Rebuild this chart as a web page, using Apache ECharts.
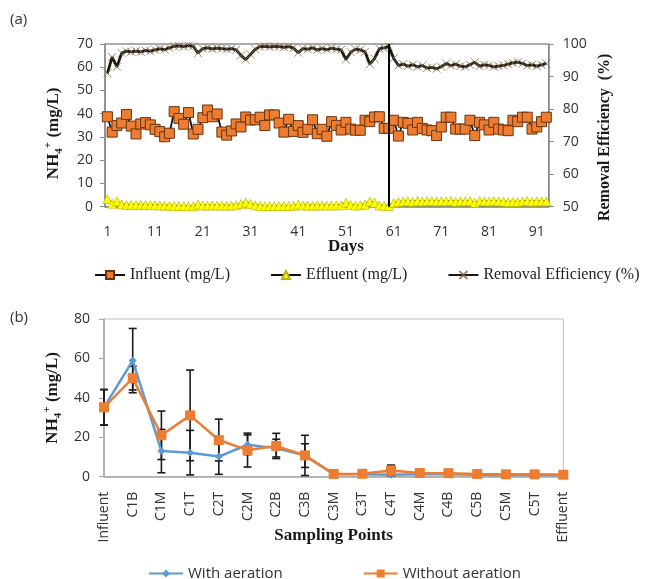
<!DOCTYPE html>
<html>
<head>
<meta charset="utf-8">
<title>NH4+ removal</title>
<script src="https://cdn.jsdelivr.net/npm/echarts@6/dist/echarts.min.js"></script>
<style>
  html, body { margin: 0; padding: 0; background: #fff; }
  #chart { width: 646px; height: 579px; }
</style>
</head>
<body>
<div id="chart"></div>
<script>
// ---- Panel (a): daily monitoring ----
const days = Array.from({ length: 93 }, (_, i) => String(i + 1));

const influent = [
  38.7, 32.1, 34.9, 36.0, 39.7, 34.7, 31.3, 35.6, 36.2, 35.2,
  33.3, 32.3, 30.1, 31.6, 40.9, 38.0, 35.5, 40.5, 31.3, 33.3,
  38.3, 41.6, 38.7, 39.9, 32.1, 30.8, 32.6, 35.6, 34.3, 38.6,
  37.3, 37.4, 38.5, 34.9, 39.5, 39.5, 36.0, 32.1, 37.6, 32.4,
  34.9, 32.0, 33.3, 37.4, 31.4, 33.3, 30.3, 36.6, 35.0, 33.0,
  36.3, 33.4, 32.9, 32.9, 37.2, 36.6, 38.6, 38.7, 33.7, 33.7,
  37.2, 30.4, 36.3, 35.9, 33.0, 36.3, 33.7, 33.0, 32.7, 30.6,
  34.3, 38.5, 38.5, 33.4, 33.4, 33.4, 37.2, 30.6, 36.3, 35.2,
  33.0, 36.3, 33.4, 33.0, 32.7, 37.2, 36.6, 38.5, 38.5, 33.4,
  34.3, 36.6, 38.5
];

const effluent = [
  3.3, 1.3, 2.4, 1.0, 0.7, 0.8, 0.7, 0.8, 0.7, 0.7,
  0.6, 0.5, 0.5, 0.4, 0.3, 0.3, 0.3, 0.2, 0.2, 0.9,
  0.5, 0.5, 0.6, 0.5, 0.5, 0.5, 0.5, 0.6, 1.2, 1.8,
  1.2, 0.6, 0.3, 0.2, 0.3, 0.3, 0.3, 0.3, 0.3, 0.4,
  0.9, 0.5, 0.5, 0.4, 0.6, 0.5, 0.5, 0.5, 0.6, 0.6,
  1.7, 0.8, 0.5, 0.6, 0.9, 2.2, 1.7, 0.5, 0.4, 0.3,
  1.6, 2.0, 2.2, 2.4, 2.1, 2.5, 2.2, 2.4, 2.4, 2.3,
  2.4, 2.3, 2.5, 2.1, 2.3, 2.3, 2.4, 1.7, 2.5, 2.3,
  2.2, 2.5, 2.3, 2.2, 2.0, 2.1, 2.0, 2.3, 2.5, 2.1,
  2.3, 2.3, 2.3
];

const removalEfficiency = [
  91.0, 96.0, 93.0, 97.2, 97.8, 97.6, 97.8, 97.6, 98.0, 97.8,
  98.2, 98.5, 98.3, 98.8, 99.3, 99.4, 99.2, 99.5, 99.3, 97.2,
  98.6, 98.8, 98.5, 98.7, 98.6, 98.4, 98.6, 98.2, 96.5, 95.2,
  96.8, 98.4, 99.2, 99.3, 99.1, 99.3, 99.2, 99.0, 99.2, 98.8,
  97.3, 98.6, 98.4, 98.8, 98.2, 98.6, 98.3, 98.7, 98.4, 98.2,
  95.2, 97.5, 98.4, 98.2, 97.6, 93.8, 95.5, 98.6, 98.8, 99.2,
  95.6, 93.4, 93.8, 93.2, 93.6, 93.0, 93.4, 92.6, 92.8, 92.4,
  93.0, 94.0, 93.4, 93.8, 93.2, 93.0, 93.6, 94.4, 93.2, 93.6,
  93.4, 93.0, 93.2, 93.4, 93.8, 94.2, 94.4, 94.0, 93.4, 93.6,
  93.2, 93.6, 94.0
];

const phaseChangeDay = '60';

// ---- Panel (b): sampling points along the system ----
const samplingPoints = [
  'Influent', 'C1B', 'C1M', 'C1T', 'C2T', 'C2M', 'C2B', 'C3B', 'C3M',
  'C3T', 'C4T', 'C4M', 'C4B', 'C5B', 'C5M', 'C5T', 'Effluent'
];
const withAeration      = [35.2, 58.9, 13.0, 12.2, 10.2, 16.2, 14.5, 10.7, 1.3, 1.2, 1.0, 1.3, 1.3, 1.0, 0.9, 0.9, 0.9];
const withAerationErr   = [9.0, 16.3, 11.0, 11.3, 9.0, 5.0, 4.5, 6.0, 0, 0, 0, 0, 0, 0, 0, 0, 0];
const withoutAeration   = [35.2, 50.0, 21.0, 31.1, 18.6, 13.5, 15.6, 10.8, 1.4, 1.5, 3.2, 1.9, 1.8, 1.4, 1.2, 1.2, 1.0];
const withoutAerationErr = [9.0, 6.0, 12.3, 23.0, 10.6, 8.6, 6.4, 10.2, 0, 0, 2.7, 0, 0, 0, 0, 0, 0];

const SANS = 'Open Sans';
const SERIF = 'Liberation Serif';

const nh4Rich = {
  b:   { fontFamily: SERIF, fontWeight: 'bold', fontSize: 17, color: '#1a1a1a', lineHeight: 22 },
  sub: { fontFamily: SERIF, fontWeight: 'bold', fontSize: 11, color: '#1a1a1a', lineHeight: 22, verticalAlign: 'bottom', padding: [8, 0, 0, 0] },
  sup: { fontFamily: SERIF, fontWeight: 'bold', fontSize: 11, color: '#1a1a1a', lineHeight: 22, verticalAlign: 'top', padding: [0, 0, 8, 0] }
};
const nh4Name = '{b|NH}{sub|4}{sup|+}{b| (mg/L)}';

function errorBarItem(params, api) {
  const i = api.value(0);
  const v = api.value(1);
  const e = api.value(2);
  if (!e) return null;
  const top = api.coord([i, v + e]);
  const bot = api.coord([i, v - e]);
  const hw = 4;
  const style = { stroke: '#1a1a1a', lineWidth: 1.6 };
  return {
    type: 'group',
    children: [
      { type: 'line', shape: { x1: top[0], y1: top[1], x2: bot[0], y2: bot[1] }, style },
      { type: 'line', shape: { x1: top[0] - hw, y1: top[1], x2: top[0] + hw, y2: top[1] }, style },
      { type: 'line', shape: { x1: bot[0] - hw, y1: bot[1], x2: bot[0] + hw, y2: bot[1] }, style }
    ]
  };
}

const chart = echarts.init(document.getElementById('chart'), null, { renderer: 'canvas' });

const greyAxis = { lineStyle: { color: '#8c8c8c', width: 1.5 } };
const tickLabel = { fontFamily: SANS, fontSize: 14, color: '#333' };

chart.setOption({
  animation: false,
  backgroundColor: '#fff',
  graphic: [
    { type: 'text', left: 10, top: 12, style: { text: '(a)', font: '15px "Open Sans"', fill: '#333' } },
    { type: 'text', left: 10, top: 310, style: { text: '(b)', font: '15px "Open Sans"', fill: '#333' } }
  ],
  legend: [
    {
      left: 89, top: 262,
      itemWidth: 30, itemHeight: 10, itemGap: 40,
      textStyle: { fontFamily: SERIF, fontSize: 16, color: '#222' },
      data: ['Influent (mg/L)', 'Effluent (mg/L)', 'Removal Efficiency (%)']
    },
    {
      left: 143, top: 561,
      itemWidth: 34, itemHeight: 10, itemGap: 80,
      textStyle: { fontFamily: SANS, fontSize: 15, color: '#333' },
      data: ['With aeration', 'Without aeration']
    }
  ],
  grid: [
    { left: 105, top: 44, width: 443.7, height: 162.7, show: true, borderColor: '#595959', borderWidth: 1 },
    { left: 104, top: 319, width: 459.3, height: 157.7, show: true, borderColor: '#bfbfbf', borderWidth: 1 }
  ],
  xAxis: [
    {
      type: 'category', gridIndex: 0, data: days, boundaryGap: true,
      axisLine: greyAxis, axisTick: { show: false },
      axisLabel: Object.assign({ interval: 9, margin: 18 }, tickLabel),
      name: 'Days', nameLocation: 'middle', nameGap: 31, nameMoveOverlap: false,
      nameTextStyle: { fontFamily: SERIF, fontWeight: 'bold', fontSize: 17, color: '#1a1a1a', padding: [0, 0, 0, 38] }
    },
    {
      type: 'category', gridIndex: 1, data: samplingPoints, boundaryGap: false,
      axisLine: { lineStyle: { color: '#a6a6a6', width: 1.5 } }, axisTick: { show: false },
      axisLabel: Object.assign({ interval: 0, rotate: 90, margin: 15 }, tickLabel),
      name: 'Sampling Points', nameLocation: 'middle', nameGap: 50, nameMoveOverlap: false,
      nameTextStyle: { fontFamily: SERIF, fontWeight: 'bold', fontSize: 17, color: '#1a1a1a' }
    }
  ],
  yAxis: [
    {
      type: 'value', gridIndex: 0, min: 0, max: 70, interval: 10, position: 'left',
      axisLine: { show: true, lineStyle: { color: '#8c8c8c', width: 1.5 } },
      axisTick: { show: true, length: 5, lineStyle: { color: '#8c8c8c' } },
      splitLine: { show: false },
      axisLabel: Object.assign({ margin: 12 }, tickLabel),
      name: nh4Name, nameLocation: 'middle', nameGap: 40, nameRotate: 90, nameMoveOverlap: false,
      nameTextStyle: { rich: nh4Rich, padding: [0, 16, 0, 0] }
    },
    {
      type: 'value', gridIndex: 0, min: 50, max: 100, interval: 10, position: 'right',
      axisLine: { show: true, lineStyle: { color: '#8c8c8c', width: 1.5 } },
      axisTick: { show: true, length: 5, lineStyle: { color: '#8c8c8c' } },
      splitLine: { show: false },
      axisLabel: Object.assign({ margin: 14 }, tickLabel),
      name: 'Removal Efficiency  (%)', nameLocation: 'middle', nameGap: 48, nameRotate: 90, nameMoveOverlap: false,
      nameTextStyle: { fontFamily: SERIF, fontWeight: 'bold', fontSize: 16, color: '#1a1a1a', padding: [0, 24, 0, 0] }
    },
    {
      type: 'value', gridIndex: 1, min: 0, max: 80, interval: 20,
      axisLine: { show: true, lineStyle: { color: '#a6a6a6', width: 1.5 } },
      axisTick: { show: true, length: 5, lineStyle: { color: '#a6a6a6' } },
      splitLine: { show: false },
      axisLabel: Object.assign({ margin: 14 }, tickLabel),
      name: nh4Name, nameLocation: 'middle', nameGap: 40, nameRotate: 90, nameMoveOverlap: false,
      nameTextStyle: { rich: nh4Rich }
    }
  ],
  series: [
    {
      name: 'Influent (mg/L)', type: 'line', xAxisIndex: 0, yAxisIndex: 0,
      data: influent, symbol: 'rect', symbolSize: 10, showAllSymbol: true, z: 3,
      lineStyle: { color: '#111', width: 1.8 },
      itemStyle: { color: '#ED7D31', borderColor: '#6b3410', borderWidth: 1 }
    },
    {
      name: 'Effluent (mg/L)', type: 'line', xAxisIndex: 0, yAxisIndex: 0,
      data: effluent, symbol: 'triangle', symbolSize: 9, showAllSymbol: true, z: 3,
      lineStyle: { color: '#111', width: 2 },
      itemStyle: { color: '#FFFF00', borderColor: '#b5b300', borderWidth: 0.6 }
    },
    {
      name: 'Removal Efficiency (%)', type: 'line', xAxisIndex: 0, yAxisIndex: 1,
      data: removalEfficiency, symbol: 'path://M0,0 L10,10 M10,0 L0,10', symbolSize: 8,
      showAllSymbol: true, z: 4,
      lineStyle: { color: '#21190f', width: 2.8 },
      itemStyle: { color: 'none', borderColor: 'rgba(120,104,75,0.75)', borderWidth: 1 },
      markLine: {
        silent: true, symbol: 'none', label: { show: false },
        lineStyle: { color: '#000', width: 2, type: 'solid' },
        data: [{ xAxis: phaseChangeDay }]
      }
    },
    {
      type: 'custom', xAxisIndex: 1, yAxisIndex: 2, z: 2,
      renderItem: errorBarItem, encode: { x: 0, y: 1 },
      data: withAeration.map((v, i) => [i, v, withAerationErr[i]])
    },
    {
      type: 'custom', xAxisIndex: 1, yAxisIndex: 2, z: 2,
      renderItem: errorBarItem, encode: { x: 0, y: 1 },
      data: withoutAeration.map((v, i) => [i, v, withoutAerationErr[i]])
    },
    {
      name: 'With aeration', type: 'line', xAxisIndex: 1, yAxisIndex: 2,
      data: withAeration, symbol: 'diamond', symbolSize: 8, z: 3,
      lineStyle: { color: '#5B9BD5', width: 2.5 },
      itemStyle: { color: '#5B9BD5' }
    },
    {
      name: 'Without aeration', type: 'line', xAxisIndex: 1, yAxisIndex: 2,
      data: withoutAeration, symbol: 'rect', symbolSize: 10, z: 4,
      lineStyle: { color: '#ED7D31', width: 2.5 },
      itemStyle: { color: '#ED7D31' }
    }
  ]
});
</script>
</body>
</html>
